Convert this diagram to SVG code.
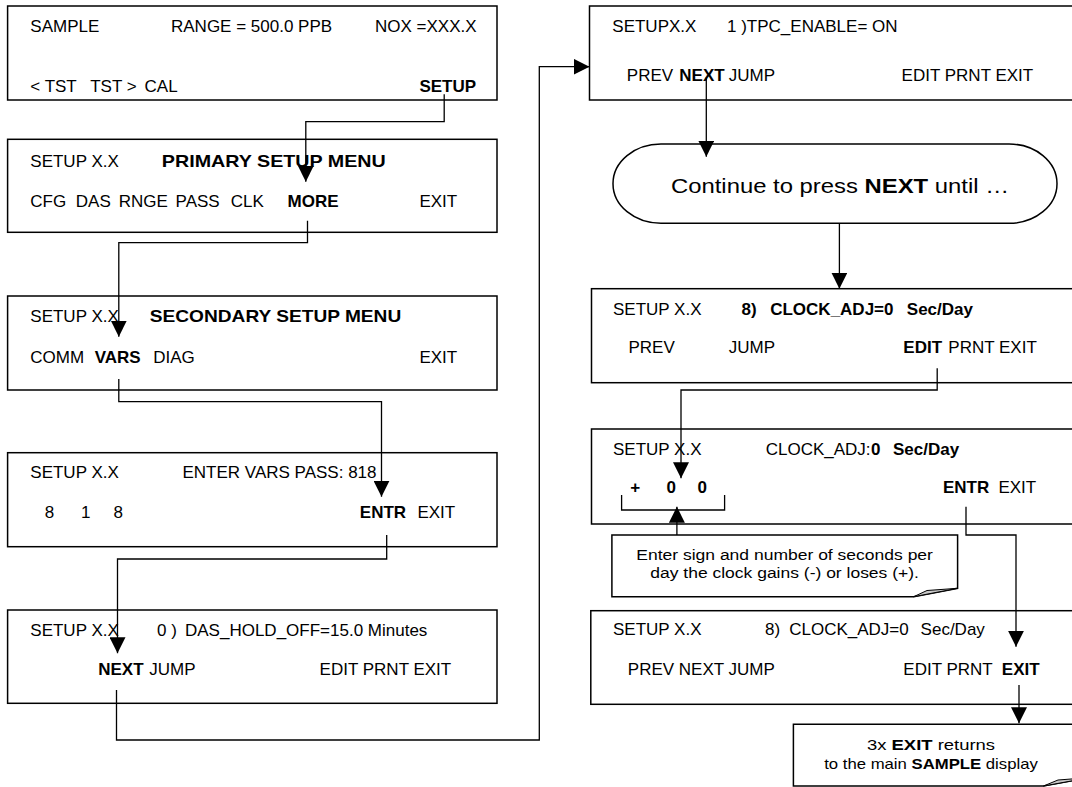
<svg xmlns="http://www.w3.org/2000/svg" width="1072" height="787" viewBox="0 0 1072 787">
<defs>
<style>
.box{fill:#fff;stroke:#000;stroke-width:1.5}
.t{font-family:"Liberation Sans",Arial,sans-serif;font-size:17px;fill:#000}
.b{font-weight:bold}
.c{fill:none;stroke:#000;stroke-width:1.3}
.fold{fill:#c8c8c8;stroke:#000;stroke-width:1}
</style>
<marker id="ah" markerUnits="userSpaceOnUse" markerWidth="16" markerHeight="16" refX="15" refY="7.5" orient="auto" viewBox="0 0 15 15">
<path d="M0,0 L15,7.5 L0,15 Z" fill="#000"/>
</marker>
</defs>
<rect width="1072" height="787" fill="#fff"/>

<g id="sample">
<rect class="box" x="7.6" y="6" width="489.4" height="94"/>
<text class="t" x="30.3" y="32">SAMPLE</text>
<text class="t" x="171" y="32">RANGE = 500.0 PPB</text>
<text class="t" x="375" y="32">NOX =XXX.X</text>
<text class="t" x="30.3" y="92">&lt; TST</text>
<text class="t" x="90.2" y="92">TST &gt;</text>
<text class="t" x="144.6" y="92">CAL</text>
<text class="t b" x="419.4" y="92">SETUP</text>
</g>

<g id="primary">
<rect class="box" x="7.6" y="139.3" width="489.4" height="93"/>
<text class="t" x="30.3" y="167">SETUP X.X</text>
<text class="t b" x="161.8" y="167" textLength="224" lengthAdjust="spacingAndGlyphs">PRIMARY SETUP MENU</text>
<text class="t" x="30.3" y="207">CFG</text>
<text class="t" x="75.8" y="207">DAS</text>
<text class="t" x="118.8" y="207">RNGE</text>
<text class="t" x="175.6" y="207">PASS</text>
<text class="t" x="230.7" y="207">CLK</text>
<text class="t b" x="287.5" y="207">MORE</text>
<text class="t" x="419.4" y="207">EXIT</text>
</g>

<g id="secondary">
<rect class="box" x="7.6" y="296" width="489.4" height="94"/>
<text class="t" x="30.3" y="322.3">SETUP X.X</text>
<text class="t b" x="149.8" y="322.3" textLength="251.4" lengthAdjust="spacingAndGlyphs">SECONDARY SETUP MENU</text>
<text class="t" x="30.3" y="362.7">COMM</text>
<text class="t b" x="94.7" y="362.7">VARS</text>
<text class="t" x="153.2" y="362.7">DIAG</text>
<text class="t" x="419.4" y="362.7">EXIT</text>
</g>

<g id="pass">
<rect class="box" x="7.6" y="452.7" width="489.4" height="94"/>
<text class="t" x="30.3" y="478.3">SETUP X.X</text>
<text class="t" x="182.5" y="478.3">ENTER VARS PASS: 818</text>
<text class="t" x="44.8" y="518.3">8</text>
<text class="t" x="80.9" y="518.3">1</text>
<text class="t" x="113.6" y="518.3">8</text>
<text class="t b" x="359.8" y="518.3">ENTR</text>
<text class="t" x="417.4" y="518.3">EXIT</text>
</g>

<g id="dashold">
<rect class="box" x="7.6" y="610" width="489.4" height="93.3"/>
<text class="t" x="30.3" y="636">SETUP X.X</text>
<text class="t" x="157.1" y="636">0 )</text>
<text class="t" x="185" y="636">DAS_HOLD_OFF=15.0 Minutes</text>
<text class="t b" x="98.2" y="675">NEXT</text>
<text class="t" x="149.3" y="675">JUMP</text>
<text class="t" x="319.6" y="675">EDIT PRNT EXIT</text>
</g>

<g id="tpc">
<rect class="box" x="589.5" y="6" width="500" height="94"/>
<text class="t" x="612.3" y="31.7">SETUPX.X</text>
<text class="t" x="727" y="31.7">1 )TPC_ENABLE= ON</text>
<text class="t" x="626.8" y="81">PREV</text>
<text class="t b" x="679.3" y="81">NEXT</text>
<text class="t" x="728.8" y="81">JUMP</text>
<text class="t" x="901.6" y="81">EDIT PRNT EXIT</text>
</g>

<g id="continue">
<rect class="box" x="613" y="144" width="444" height="79.3" rx="48" ry="39.6"/>
<text class="t" x="671" y="193.3" style="font-size:20px" textLength="338" lengthAdjust="spacingAndGlyphs">Continue to press <tspan class="b">NEXT</tspan> until …</text>
</g>

<g id="clock1">
<rect class="box" x="591.5" y="288.7" width="500" height="94"/>
<text class="t" x="613" y="315">SETUP X.X</text>
<text class="t b" x="741.5" y="315">8)</text>
<text class="t b" x="770.2" y="315">CLOCK_ADJ=0</text>
<text class="t b" x="906.8" y="315">Sec/Day</text>
<text class="t" x="628.5" y="353.3">PREV</text>
<text class="t" x="728.8" y="353.3">JUMP</text>
<text class="t b" x="903.3" y="353.3">EDIT</text>
<text class="t" x="948.3" y="353.3">PRNT EXIT</text>
</g>

<g id="clock2">
<rect class="box" x="591.5" y="429" width="500" height="95"/>
<text class="t" x="613" y="455">SETUP X.X</text>
<text class="t" x="765.7" y="455">CLOCK_ADJ:</text>
<text class="t b" x="871" y="455">0</text>
<text class="t b" x="893" y="455">Sec/Day</text>
<text class="t b" x="630.2" y="493.3">+</text>
<text class="t b" x="666.5" y="493.3">0</text>
<text class="t b" x="697.6" y="493.3">0</text>
<text class="t b" x="943" y="493.3">ENTR</text>
<text class="t" x="998.4" y="493.3">EXIT</text>
<path class="c" d="M621.6,495 V510 H724.6 V495"/>
</g>

<g id="note1">
<path class="box" d="M611.9,535 H957.6 V588.3 L913.7,596.7 H611.9 Z"/>
<path class="fold" d="M913.7,596.7 L957.6,588.3 L927,590.5 Z"/>
<text class="t" x="784.6" y="560" text-anchor="middle" style="font-size:15.5px" textLength="296.7" lengthAdjust="spacingAndGlyphs">Enter sign and number of seconds per</text>
<text class="t" x="784.6" y="578" text-anchor="middle" style="font-size:15.5px" textLength="268.6" lengthAdjust="spacingAndGlyphs">day the clock gains (-) or loses (+).</text>
</g>

<g id="clock3">
<rect class="box" x="590.8" y="610.7" width="500" height="93.6"/>
<text class="t" x="613" y="635">SETUP X.X</text>
<text class="t" x="765" y="635">8)</text>
<text class="t" x="789.2" y="635">CLOCK_ADJ=0</text>
<text class="t" x="920.6" y="635">Sec/Day</text>
<text class="t" x="627.8" y="675">PREV NEXT JUMP</text>
<text class="t" x="903.3" y="675">EDIT PRNT</text>
<text class="t b" x="1001.8" y="675">EXIT</text>
</g>

<g id="note2">
<path class="box" d="M793.4,724.3 H1090 V777.6 L1043.5,786 H793.4 Z"/>
<path class="fold" d="M1043.5,786 L1090,777.6 L1058,780 Z"/>
<text class="t" x="931" y="750" text-anchor="middle" style="font-size:15px" textLength="128" lengthAdjust="spacingAndGlyphs">3x <tspan class="b">EXIT</tspan> returns</text>
<text class="t" x="931" y="769.3" text-anchor="middle" style="font-size:15px" textLength="213.6" lengthAdjust="spacingAndGlyphs">to the main <tspan class="b">SAMPLE</tspan> display</text>
</g>

<g id="connectors">
<path class="c" d="M444.2,94.3 V121.7 H305.8 V181.7" marker-end="url(#ah)"/>
<path class="c" d="M307.5,220.7 V242.7 H118.8 V336.7" marker-end="url(#ah)"/>
<path class="c" d="M118.8,379 V401.7 H381.5 V496.7" marker-end="url(#ah)"/>
<path class="c" d="M386.7,535 V559 H117.5 V653.3" marker-end="url(#ah)"/>
<path class="c" d="M116.5,690 V740 H539.3 V66.7 H589.5" marker-end="url(#ah)"/>
<path class="c" d="M706.3,77.3 V156.7" marker-end="url(#ah)"/>
<path class="c" d="M839.4,223.3 V288.7" marker-end="url(#ah)"/>
<path class="c" d="M937.2,368.3 V390 H681 V478.3" marker-end="url(#ah)"/>
<path class="c" d="M966,506.7 V535 H1016 V646.7" marker-end="url(#ah)"/>
<path class="c" d="M1019,685 V723.3" marker-end="url(#ah)"/>
<path class="c" d="M676.9,535 V506.7" marker-end="url(#ah)"/>
</g>
</svg>
